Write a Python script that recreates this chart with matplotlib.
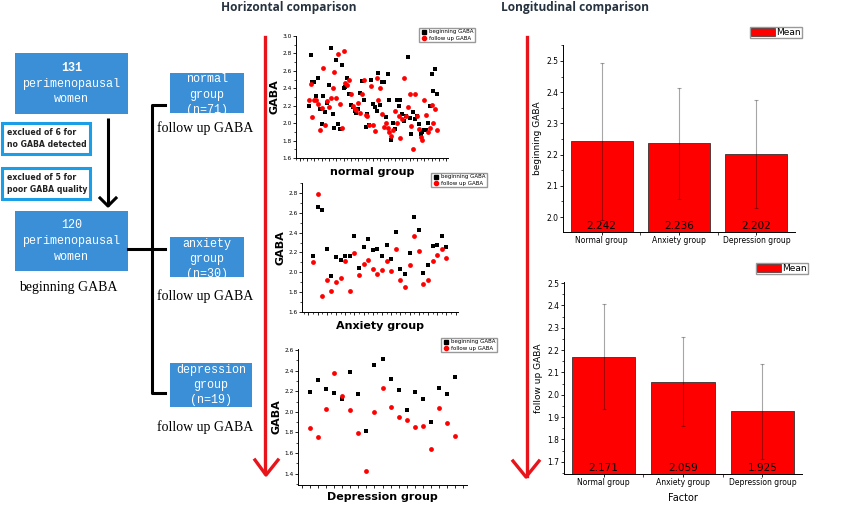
import numpy as np
import matplotlib
matplotlib.use('Agg')
import matplotlib.pyplot as plt
import matplotlib.patches as mpatches
from matplotlib.lines import Line2D
from matplotlib.ticker import MultipleLocator

# ── Data ──────────────────────────────────────────────────────────────────────
normal_begin = [2.20, 2.78, 2.47, 2.47, 2.31, 2.52, 2.16, 1.99, 2.31, 2.13,
                2.23, 2.44, 2.86, 2.10, 1.94, 2.73, 1.99, 1.93, 2.67, 2.40,
                2.42, 2.52, 2.33, 2.21, 2.19, 2.14, 2.12, 2.16, 2.35, 2.48,
                2.26, 1.96, 2.10, 1.98, 2.50, 2.22, 2.19, 2.14, 2.57, 2.21,
                2.47, 2.47, 2.07, 2.56, 2.26, 1.81, 2.00, 1.93, 2.26, 2.20,
                2.26, 2.10, 2.03, 2.08, 2.76, 2.06, 1.87, 2.13, 2.05, 2.08,
                1.99, 1.88, 1.90, 1.92, 1.92, 2.00, 2.20, 2.56, 2.37, 2.62,
                2.34]
normal_follow = [2.27, 2.45, 2.07, 2.26, 2.26, 2.22, 1.92, 2.17, 2.63, 1.98,
                 2.25, 2.19, 2.29, 2.40, 2.59, 2.29, 2.79, 2.22, 1.94, 2.83,
                 2.46, 2.44, 2.49, 2.33, 2.20, 2.16, 2.15, 2.23, 2.12, 2.34,
                 2.50, 2.09, 2.08, 1.98, 2.43, 1.98, 1.91, 2.52, 2.26, 2.40,
                 2.11, 1.96, 2.00, 1.94, 1.90, 1.85, 1.92, 2.14, 2.00, 2.08,
                 1.83, 2.05, 2.52, 2.08, 2.18, 2.34, 1.97, 1.70, 2.33, 2.08,
                 1.93, 1.84, 1.81, 2.26, 2.09, 1.90, 1.95, 2.21, 2.00, 2.16,
                 1.92]

anxiety_begin = [2.16, 2.66, 2.63, 2.23, 1.96, 2.15, 2.12, 2.16, 2.16, 2.37,
                 2.04, 2.25, 2.34, 2.22, 2.23, 2.16, 2.28, 2.13, 2.41, 2.03,
                 1.98, 2.19, 2.56, 2.43, 1.99, 2.07, 2.27, 2.28, 2.37, 2.26]
anxiety_follow = [2.10, 2.79, 1.76, 1.92, 1.81, 1.90, 1.94, 2.11, 1.81, 2.19,
                  1.97, 2.08, 2.12, 2.03, 1.98, 2.02, 2.11, 2.01, 2.23, 1.92,
                  1.85, 2.07, 2.37, 2.21, 1.88, 1.92, 2.11, 2.17, 2.23, 2.14]

depression_begin = [2.19, 2.31, 2.22, 2.18, 2.12, 2.39, 2.17, 1.81, 2.45, 2.51,
                    2.32, 2.21, 2.02, 2.19, 2.12, 1.90, 2.23, 2.17, 2.34]
depression_follow = [1.84, 1.76, 2.03, 2.38, 2.15, 2.02, 1.79, 1.43, 2.00, 2.23,
                     2.05, 1.95, 1.92, 1.85, 1.86, 1.64, 2.04, 1.89, 1.77]

groups = ['Normal group', 'Anxiety group', 'Depression group']
begin_mean = [2.242, 2.236, 2.202]
begin_err = [0.250, 0.178, 0.172]
follow_mean = [2.171, 2.059, 1.925]
follow_err = [0.235, 0.201, 0.213]

# ── Figure ────────────────────────────────────────────────────────────────────
W, H = 850, 513
fig = plt.figure(figsize=(W / 100, H / 100), dpi=100)


def box_axes(left, top, right, bottom):
    # pixel box -> figure axes
    return fig.add_axes([left / W, 1 - bottom / H, (right - left) / W, (bottom - top) / H])


# overlay in pixel coordinates for the flow chart and arrows
ov = fig.add_axes([0, 0, 1, 1])
ov.set_xlim(0, W)
ov.set_ylim(H, 0)
ov.axis('off')

BLUE = '#3a8fd6'
EDGE = '#1c9ee6'
MONO = 'Liberation Mono'
SERIF = 'Liberation Serif'


def blue_box(x0, y0, x1, y1, text, dy=0, bold_first=False):
    ov.add_patch(mpatches.Rectangle((x0, y0), x1 - x0, y1 - y0,
                                    facecolor=BLUE, edgecolor='none'))
    lines = text.split('\n')
    n = len(lines)
    yc = (y0 + y1) / 2 + dy
    for i, ln in enumerate(lines):
        yy = yc + (i - (n - 1) / 2) * 15.5
        ov.text((x0 + x1) / 2, yy, ln, color='white', ha='center', va='center',
                fontsize=8.5, family=MONO,
                fontweight='bold' if (bold_first and i == 0) else 'normal')


blue_box(15, 53, 128, 114, '131\nperimenopausal\nwomen', bold_first=True)
blue_box(15, 211, 128, 271, '120\nperimenopausal\nwomen')
blue_box(170, 73, 244, 113, 'normal\ngroup\n(n=71)', dy=2)
blue_box(170, 237, 244, 277, 'anxiety\ngroup\n(n=30)', dy=2)
blue_box(170, 363, 252, 407, 'depression\ngroup\n(n=19)', dy=0)

for (y0, y1, txt) in [(123, 154, 'exclued of 6 for\nno GABA detected'),
                      (168, 199, 'exclued of 5 for\npoor GABA quality')]:
    ov.add_patch(mpatches.Rectangle((2, y0), 88, y1 - y0, facecolor='white',
                                    edgecolor=EDGE, linewidth=2.2))
    ov.text(7, (y0 + y1) / 2, txt, ha='left', va='center', fontsize=5.6,
            fontweight='bold', color='#222222', linespacing=1.5)

# down arrow between the two big boxes
ov.plot([108, 108], [118, 206], color='black', lw=2.2, solid_capstyle='butt')
ov.plot([100, 108, 116], [198, 206, 198], color='black', lw=2.2)

# bracket
ov.plot([128, 165], [249, 249], color='black', lw=2.2)
ov.plot([165, 152, 152, 165], [105, 105, 393, 393], color='black', lw=2.2)

ov.text(68, 288, 'beginning GABA', ha='center', va='center', fontsize=10, family=SERIF)
for yy in (128, 296, 427):
    ov.text(205, yy, 'follow up GABA', ha='center', va='center', fontsize=10, family=SERIF)

# red arrows
RED = '#e8141c'
ov.plot([265, 265], [37, 473], color=RED, lw=2.4)
ov.plot([255, 266, 278], [460, 475, 460], color=RED, lw=2.4)
ov.plot([527, 527], [37, 476], color=RED, lw=2.4)
ov.plot([513, 526, 539], [461, 477, 461], color=RED, lw=2.4)

# titles
ov.text(289, 7, 'Horizontal comparison', ha='center', va='center', fontsize=8.6,
        family='Open Sans', fontweight='bold', color='#26323f')
ov.text(575, 7, 'Longitudinal comparison', ha='center', va='center', fontsize=8.6,
        family='Open Sans', fontweight='bold', color='#26323f')


# ── Scatter panels ────────────────────────────────────────────────────────────
def style_axes(ax, fs):
    for s in ('top', 'right'):
        ax.spines[s].set_visible(False)
    for s in ('left', 'bottom'):
        ax.spines[s].set_linewidth(0.7)
    ax.tick_params(axis='both', which='major', labelsize=fs, length=2.2, width=0.6, pad=1)
    ax.tick_params(axis='both', which='minor', length=1.3, width=0.5)


def scatter_panel(rect, begin, follow, xlabel, ylim, ymajor, xlim, leg_anchor):
    ax = box_axes(*rect)
    x = np.arange(1, len(begin) + 1)
    ax.scatter(x, begin, marker='s', s=10, color='black', linewidths=0, zorder=3)
    ax.scatter(x, follow, marker='o', s=12, color='#ff0000', linewidths=0, zorder=3)
    ax.set_xlim(*xlim)
    ax.set_ylim(*ylim)
    ax.yaxis.set_major_locator(MultipleLocator(ymajor))
    ax.yaxis.set_minor_locator(MultipleLocator(ymajor / 2))
    ax.xaxis.set_major_locator(MultipleLocator(max(1, len(begin) // 15)))
    ax.xaxis.set_minor_locator(MultipleLocator(max(1, len(begin) // 30)))
    ax.set_xticklabels([])
    ax.yaxis.set_major_formatter(matplotlib.ticker.FormatStrFormatter('%.1f'))
    style_axes(ax, 4.2)
    ax.set_xlabel(xlabel, fontsize=8, fontweight='bold', labelpad=2)
    ax.set_ylabel('GABA', fontsize=8, fontweight='bold', labelpad=2)
    handles = [Line2D([], [], marker='s', color='black', ls='none', markersize=2.6),
               Line2D([], [], marker='o', color='#ff0000', ls='none', markersize=3)]
    ax.legend(handles, ['beginning GABA', 'follow up GABA'], fontsize=4,
              loc='upper right', bbox_to_anchor=leg_anchor, bbox_transform=fig.transFigure,
              frameon=True, fancybox=False, edgecolor='#999999', framealpha=1,
              borderpad=0.3, handletextpad=0.3, handlelength=1.2, labelspacing=0.2)
    return ax


scatter_panel((296, 36, 448, 158), normal_begin, normal_follow, 'normal group',
              (1.6, 3.0), 0.2, (-6, 77), (478 / W, 1 - 25 / H))
scatter_panel((302, 183, 458, 312), anxiety_begin, anxiety_follow, 'Anxiety group',
              (1.6, 2.9), 0.2, (-1.4, 32.5), (490 / W, 1 - 170 / H))
scatter_panel((298, 349, 467, 485), depression_begin, depression_follow, 'Depression group',
              (1.29, 2.61), 0.2, (-0.5, 20.5), (500 / W, 1 - 335 / H))


# ── Bar panels ────────────────────────────────────────────────────────────────
def bar_panel(rect, means, errs, ylim, ylabel, leg_anchor, xlabel=None):
    ax = box_axes(*rect)
    x = np.arange(len(groups))
    ax.bar(x, means, width=0.8, color='#ff0000', edgecolor='#333333', linewidth=0.6, zorder=2)
    ax.errorbar(x, means, yerr=errs, fmt='none', ecolor='black', alpha=0.35,
                elinewidth=0.8, capsize=1.5, capthick=0.8, zorder=3)
    for xi, m in zip(x, means):
        ax.annotate(f'{m:.3f}', xy=(xi, ylim[0]), xytext=(0, 0.5), textcoords='offset points',
                    ha='center', va='bottom', fontsize=7.5, zorder=4)
    ax.set_xlim(-0.5, 2.5)
    ax.set_ylim(*ylim)
    ax.set_xticks(x)
    ax.set_xticklabels(groups)
    ax.xaxis.set_minor_locator(matplotlib.ticker.FixedLocator([0.5, 1.5]))
    ax.yaxis.set_major_locator(MultipleLocator(0.1))
    ax.yaxis.set_minor_locator(MultipleLocator(0.05))
    ax.yaxis.set_major_formatter(matplotlib.ticker.FormatStrFormatter('%.1f'))
    style_axes(ax, 5.5)
    ax.tick_params(axis='x', which='minor', length=2.2)
    ax.set_ylabel(ylabel, fontsize=6.5, labelpad=3)
    if xlabel:
        ax.set_xlabel(xlabel, fontsize=7, labelpad=4)
    ax.legend(handles=[mpatches.Patch(facecolor='#ff0000', edgecolor='#333333', linewidth=0.5)],
              labels=['Mean'], fontsize=6.5, loc='upper right', bbox_to_anchor=leg_anchor,
              bbox_transform=fig.transFigure, frameon=True, fancybox=False,
              edgecolor='#999999', framealpha=1, borderpad=0.1, handletextpad=0.2,
              handlelength=2.6, handleheight=1.0, borderaxespad=0)
    return ax


bar_panel((563, 45, 795, 232), begin_mean, begin_err, (1.952, 2.551), 'beginning GABA',
          (802 / W, 1 - 27 / H))
bar_panel((564, 282, 802, 474), follow_mean, follow_err, (1.645, 2.505), 'follow up GABA',
          (808 / W, 1 - 263 / H), xlabel='Factor')

fig.savefig('out.png', dpi=100)
